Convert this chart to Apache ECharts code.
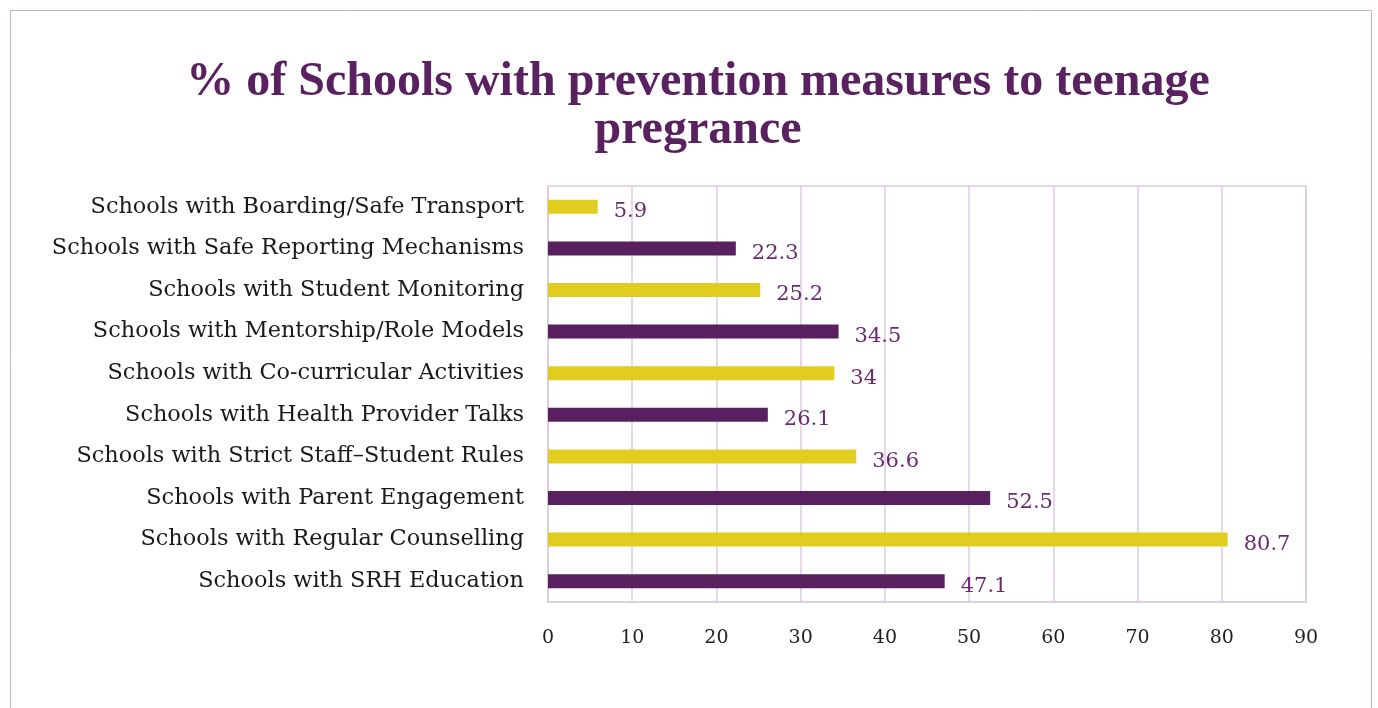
<!DOCTYPE html>
<html>
<head>
<meta charset="utf-8">
<script src="https://cdn.jsdelivr.net/npm/echarts@6/dist/echarts.min.js"></script>
<style>
  html, body { margin: 0; padding: 0; background: #fff; }
  #chart { width: 1378px; height: 708px; }
</style>
</head>
<body>
<div id="chart"></div>
<script>
// Categories listed bottom to top (category axis starts at the bottom)
const categories = [
  'Schools with SRH Education',
  'Schools with Regular Counselling',
  'Schools with Parent Engagement',
  'Schools with Strict Staff\u2013Student Rules',
  'Schools with Health Provider Talks',
  'Schools with Co-curricular Activities',
  'Schools with Mentorship/Role Models',
  'Schools with Student Monitoring',
  'Schools with Safe Reporting Mechanisms',
  'Schools with Boarding/Safe Transport'
];
const values = [47.1, 80.7, 52.5, 36.6, 26.1, 34, 34.5, 25.2, 22.3, 5.9];
const tickValues = [0, 10, 20, 30, 40, 50, 60, 70, 80, 90];

const PURPLE = '#58205f';
const YELLOW = '#e0cd1f';
const GRID = '#dccbe0';

const chart = echarts.init(document.getElementById('chart'), null, { renderer: 'canvas' });

chart.setOption({
  backgroundColor: '#ffffff',
  animation: false,
  graphic: [
    {
      // outer chart frame
      type: 'rect',
      shape: { x: 10.5, y: 10.5, width: 1361, height: 720 },
      style: { fill: 'none', stroke: '#c6b0cc', lineWidth: 1 },
      silent: true
    },
    {
      // plot area border (top and right edges)
      type: 'rect',
      shape: { x: 548, y: 186, width: 1306 - 548, height: 602 - 186 },
      style: { fill: 'none', stroke: GRID, lineWidth: 1.5 },
      silent: true
    }
  ],
  title: {
    text: '% of Schools with prevention measures to teenage\npregrance',
    left: 693,
    top: 54,
    textAlign: 'center',
    textStyle: {
      fontFamily: 'Liberation Serif',
      fontWeight: 'bold',
      fontSize: 48,
      lineHeight: 48,
      color: '#5a2160'
    }
  },
  grid: { left: 548, right: 72, top: 186, bottom: 106, containLabel: false },
  xAxis: {
    type: 'value',
    min: tickValues[0],
    max: tickValues[tickValues.length - 1],
    interval: 10,
    axisLine: { show: true, lineStyle: { color: GRID, width: 1.5 } },
    axisTick: { show: false },
    splitLine: { show: true, lineStyle: { color: GRID, width: 1.5 } },
    axisLabel: {
      margin: 27,
      fontFamily: 'DejaVu Serif',
      fontSize: 19,
      color: '#222222'
    }
  },
  yAxis: {
    type: 'category',
    data: categories,
    axisLine: { show: true, lineStyle: { color: GRID, width: 1.5 } },
    axisTick: { show: false },
    splitLine: { show: false },
    axisLabel: {
      margin: 24,
      fontFamily: 'DejaVu Serif',
      fontSize: 22.4,
      color: '#1a1a1a',
      padding: [2, 0, 0, 0]
    }
  },
  series: [{
    type: 'bar',
    data: values.map((v, i) => ({
      value: v,
      itemStyle: { color: i % 2 === 0 ? PURPLE : YELLOW }
    })),
    barWidth: 14,
    label: {
      show: true,
      position: 'right',
      distance: 16,
      offset: [0, 5],
      fontFamily: 'DejaVu Serif',
      fontSize: 21,
      color: '#6a2b6e'
    }
  }]
});
</script>
</body>
</html>
